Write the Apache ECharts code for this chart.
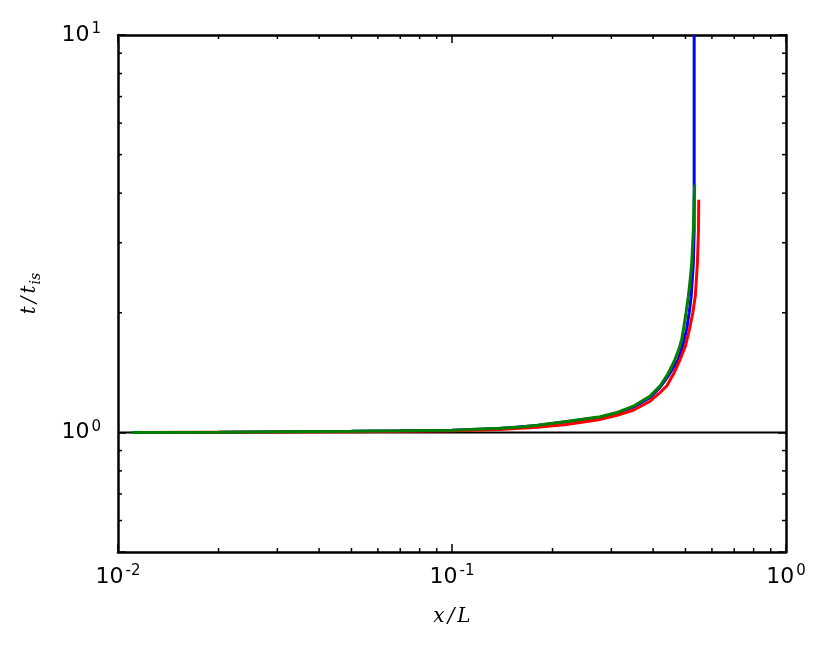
<!DOCTYPE html>
<html>
<head>
<meta charset="utf-8">
<script src="https://cdn.jsdelivr.net/npm/echarts@6/dist/echarts.min.js"></script>
<style>
  html, body { margin: 0; padding: 0; background: #fff; }
  #chart { width: 831px; height: 653px; }
</style>
</head>
<body>
<div id="chart"></div>
<script>
  // values (x/L, t/t_is)
  const blueX = [0.011, 0.02, 0.03, 0.05, 0.07, 0.1, 0.139, 0.18, 0.22, 0.278, 0.31, 0.349, 0.392, 0.42, 0.445, 0.476, 0.49, 0.504, 0.513, 0.52, 0.528, 0.531, 0.531, 0.531]
  const blueY = [1.0, 1.001, 1.003, 1.006, 1.009, 1.013, 1.023, 1.041, 1.063, 1.092, 1.116, 1.157, 1.225, 1.3, 1.39, 1.525, 1.65, 1.815, 2.0, 2.198, 2.667, 3.236, 4.3, 10]

  const redX = [0.011, 0.03, 0.05, 0.07, 0.1, 0.139, 0.18, 0.22, 0.278, 0.31, 0.349, 0.392, 0.42, 0.439, 0.46, 0.482, 0.5, 0.514, 0.526, 0.535, 0.543, 0.547, 0.548]
  const redY = [1.0, 1.002, 1.004, 1.007, 1.010, 1.017, 1.030, 1.047, 1.078, 1.102, 1.137, 1.198, 1.26, 1.307, 1.40, 1.525, 1.65, 1.815, 2.0, 2.2, 2.667, 3.236, 3.85]

  const greenX = [0.011, 0.02, 0.03, 0.05, 0.07, 0.1, 0.139, 0.158, 0.18, 0.22, 0.278, 0.31, 0.349, 0.392, 0.42, 0.439, 0.45, 0.465, 0.478, 0.487, 0.493, 0.502, 0.51, 0.516, 0.522, 0.528, 0.531, 0.533]
  const greenY = [1.0, 1.001, 1.003, 1.006, 1.009, 1.013, 1.024, 1.030, 1.042, 1.065, 1.095, 1.12, 1.164, 1.234, 1.31, 1.385, 1.44, 1.525, 1.62, 1.712, 1.815, 2.0, 2.198, 2.4, 2.667, 3.236, 3.92, 4.2]

  const refX = [0.01, 1]
  const refY = [1, 1]

  const xMinorTicks = [0.02, 0.03, 0.04, 0.05, 0.06, 0.07, 0.08, 0.09, 0.2, 0.3, 0.4, 0.5, 0.6, 0.7, 0.8, 0.9]
  const yMinorTicks = [0.6, 0.7, 0.8, 0.9, 2, 3, 4, 5, 6, 7, 8, 9]

  const zip = (xs, ys) => xs.map((x, i) => [x, ys[i]])

  const powLabel = function (v) {
    const e = Math.log10(v)
    const r = Math.round(e)
    if (Math.abs(e - r) > 1e-6) return ''
    return '{b|10}{s|' + r + '}'
  }
  const labelRich = {
    b: { fontFamily: 'DejaVu Sans', fontSize: 22, lineHeight: 26, color: '#000' },
    s: { fontFamily: 'DejaVu Sans', fontSize: 15, lineHeight: 14, verticalAlign: 'top', padding: [0, 0, 0, 2], color: '#000' }
  }
  const nameRich = {
    i: { fontFamily: 'DejaVu Serif', fontStyle: 'italic', fontSize: 20, lineHeight: 26, color: '#000' },
    sl: { fontFamily: 'DejaVu Serif', fontStyle: 'italic', fontSize: 20, lineHeight: 26, padding: [0, 3, 0, 3], color: '#000' },
    sub: { fontFamily: 'DejaVu Serif', fontStyle: 'italic', fontSize: 14, lineHeight: 14, verticalAlign: 'bottom', padding: [0, 0, 0, 1], color: '#000' }
  }

  const axisBase = {
    axisLine: { show: true, onZero: false, lineStyle: { color: '#000', width: 2.5 } },
    axisTick: { show: true, inside: true, length: 8, lineStyle: { color: '#000', width: 1.5 } },
    splitLine: { show: false }
  }

  // minor ticks on all four sides, placed through the axis scales
  function minorTick(dir) {
    return function (params, api) {
      const cs = params.coordSys
      const len = 4
      let a, b
      if (dir === 'x') {
        const px = api.coord([api.value(0), 1])[0]
        a = { x1: px, y1: cs.y + cs.height, x2: px, y2: cs.y + cs.height - len }
        b = { x1: px, y1: cs.y, x2: px, y2: cs.y + len }
      } else {
        const py = api.coord([0.1, api.value(1)])[1]
        a = { x1: cs.x, y1: py, x2: cs.x + len, y2: py }
        b = { x1: cs.x + cs.width, y1: py, x2: cs.x + cs.width - len, y2: py }
      }
      return {
        type: 'group',
        children: [
          { type: 'line', shape: a, style: { stroke: '#000', lineWidth: 1.5 } },
          { type: 'line', shape: b, style: { stroke: '#000', lineWidth: 1.5 } }
        ]
      }
    }
  }

  const chart = echarts.init(document.getElementById('chart'))
  chart.setOption({
    animation: false,
    backgroundColor: '#fff',
    grid: { left: 118, right: 45, top: 35, bottom: 101, containLabel: false, outerBoundsMode: 'none' },
    xAxis: [
      Object.assign({
        type: 'log', logBase: 10, min: 0.01, max: 1, position: 'bottom',
        name: '{i|x}{sl|/}{i|L}', nameLocation: 'middle', nameGap: 52,
        nameTextStyle: { rich: nameRich },
        axisLabel: { formatter: powLabel, rich: labelRich, margin: 12 }
      }, axisBase),
      Object.assign({
        type: 'log', logBase: 10, min: 0.01, max: 1, position: 'top',
        axisLabel: { show: false }
      }, axisBase)
    ],
    yAxis: [
      Object.assign({
        type: 'log', logBase: 10, min: 0.5, max: 10, position: 'left',
        name: '{i|t}{sl|/}{i|t}{sub|is}', nameLocation: 'middle', nameGap: 75, nameRotate: 90,
        nameTextStyle: { rich: nameRich },
        axisLabel: { formatter: powLabel, rich: labelRich, margin: 17 }
      }, axisBase),
      Object.assign({
        type: 'log', logBase: 10, min: 0.5, max: 10, position: 'right',
        axisLabel: { show: false }
      }, axisBase)
    ],
    series: [
      {
        type: 'line', data: zip(refX, refY), showSymbol: false, silent: true,
        lineStyle: { color: '#000', width: 2 }, z: 2
      },
      {
        type: 'line', data: zip(blueX, blueY), showSymbol: false, silent: true,
        lineStyle: { color: '#0000ff', width: 3 }, z: 3
      },
      {
        type: 'line', data: zip(redX, redY), showSymbol: false, silent: true,
        lineStyle: { color: '#ff0000', width: 3 }, z: 3
      },
      {
        type: 'line', data: zip(greenX, greenY), showSymbol: false, silent: true,
        lineStyle: { color: '#008000', width: 3 }, z: 4
      },
      {
        type: 'custom', renderItem: minorTick('x'), silent: true, z: 5,
        data: xMinorTicks.map(v => [v, 1])
      },
      {
        type: 'custom', renderItem: minorTick('y'), silent: true, z: 5,
        data: yMinorTicks.map(v => [0.1, v])
      }
    ]
  })
</script>
</body>
</html>
